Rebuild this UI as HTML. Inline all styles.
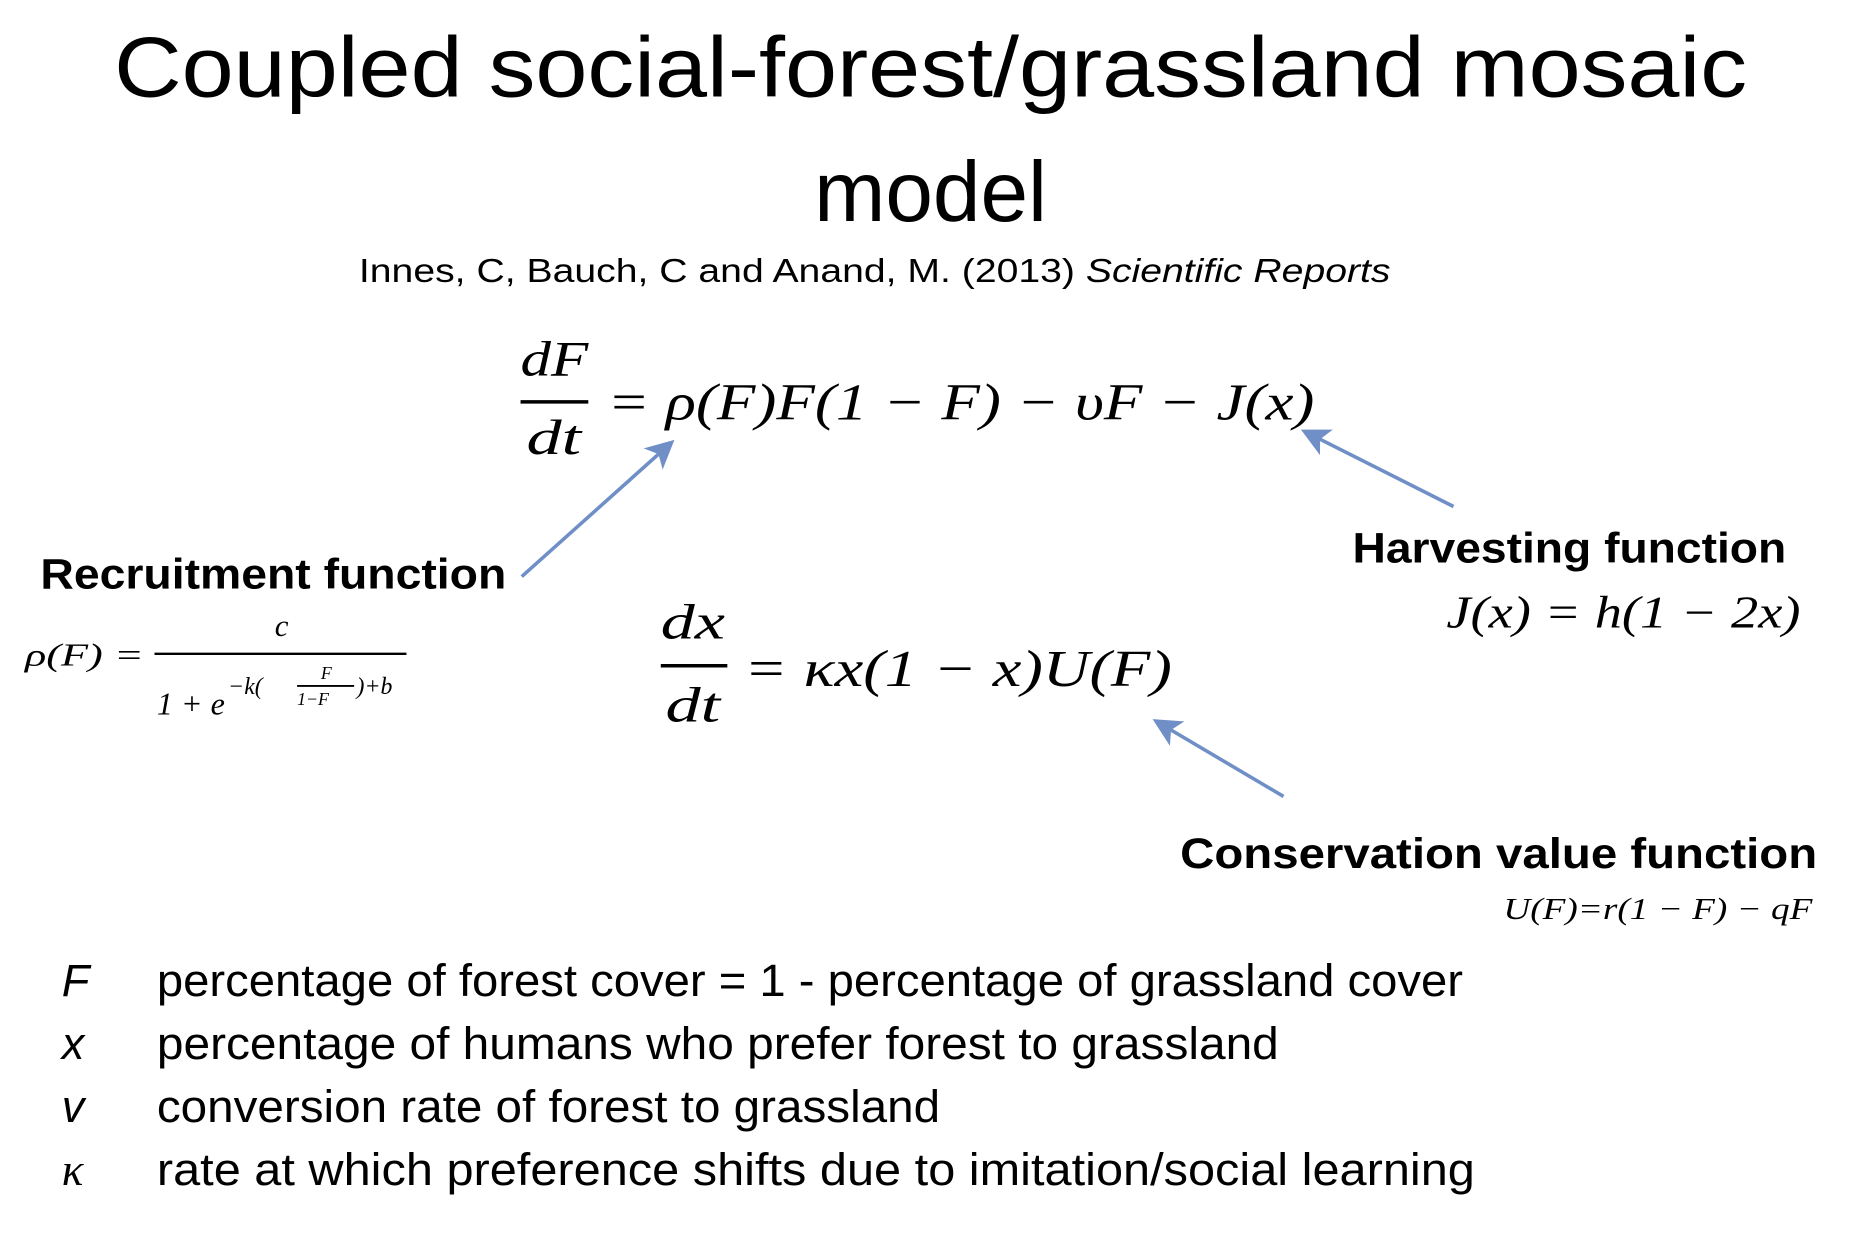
<!DOCTYPE html>
<html><head><meta charset="utf-8"><style>
html,body{margin:0;padding:0;background:#fff;width:1854px;height:1234px;overflow:hidden}
svg{display:block}
.t{font-family:"Liberation Sans",sans-serif;fill:#000}
.m{font-family:"Liberation Serif",serif;font-style:italic;fill:#000}
.b{font-family:"Liberation Sans",sans-serif;font-weight:bold;fill:#000}
</style></head><body>
<svg width="1854" height="1234" viewBox="0 0 1560 1038">
<text class="t" x="96" y="81" font-size="72" textLength="1374" lengthAdjust="spacingAndGlyphs">Coupled social-forest/grassland mosaic</text>
<text class="t" x="783" y="186" font-size="72" text-anchor="middle">model</text>
<text class="t" x="302" y="237" font-size="28" textLength="868" lengthAdjust="spacingAndGlyphs">Innes, C, Bauch, C and Anand, M. (2013) <tspan font-style="italic">Scientific Reports</tspan></text>

<g>
<text class="m" x="438" y="316" font-size="42" textLength="57" lengthAdjust="spacingAndGlyphs">dF</text>
<line x1="438" y1="338" x2="495" y2="338" stroke="#000" stroke-width="3"/>
<text class="m" x="443" y="382" font-size="42" textLength="46" lengthAdjust="spacingAndGlyphs">dt</text>
<text class="m" x="511" y="353" font-size="44" textLength="595" lengthAdjust="spacingAndGlyphs">= ρ(F)F(1 − F) − υF − J(x)</text>
</g>

<text class="b" x="34" y="495" font-size="36" textLength="392" lengthAdjust="spacingAndGlyphs">Recruitment function</text>
<g>
<text class="m" x="21" y="560" font-size="27" textLength="100" lengthAdjust="spacingAndGlyphs">ρ(F) =</text>
<text class="m" x="237" y="535" font-size="26" text-anchor="middle">c</text>
<line x1="130" y1="550" x2="342" y2="550" stroke="#000" stroke-width="2"/>
<text class="m" x="132" y="601" font-size="27">1 + e</text>
<text class="m" x="192" y="584" font-size="20">−k(</text>
<text class="m" x="270" y="571" font-size="15">F</text>
<line x1="250" y1="577" x2="298" y2="577" stroke="#000" stroke-width="1.5"/>
<text class="m" x="250" y="593" font-size="15">1−F</text>
<text class="m" x="300" y="584" font-size="20">)+b</text>
</g>

<g>
<text class="m" x="556" y="537" font-size="42" textLength="54" lengthAdjust="spacingAndGlyphs">dx</text>
<line x1="556" y1="560" x2="612" y2="560" stroke="#000" stroke-width="3"/>
<text class="m" x="560" y="607" font-size="42" textLength="46" lengthAdjust="spacingAndGlyphs">dt</text>
<text class="m" x="626" y="577" font-size="44" textLength="360" lengthAdjust="spacingAndGlyphs">= κx(1 − x)U(F)</text>
</g>

<text class="b" x="1138" y="473" font-size="36" textLength="365" lengthAdjust="spacingAndGlyphs">Harvesting function</text>
<text class="m" x="1217" y="528" font-size="38" textLength="298" lengthAdjust="spacingAndGlyphs">J(x) = h(1 − 2x)</text>

<text class="b" x="993" y="730" font-size="36" textLength="536" lengthAdjust="spacingAndGlyphs">Conservation value function</text>
<text class="m" x="1265" y="773" font-size="26" textLength="260" lengthAdjust="spacingAndGlyphs">U(F)=r(1 − F) − qF</text>

<defs><marker id="ah" markerWidth="8" markerHeight="8" refX="6" refY="4" orient="auto" markerUnits="strokeWidth"><path d="M0,0 L8,4 L0,8 L2,4 z" fill="#6f8fc6"/></marker></defs>
<line x1="439" y1="485" x2="563" y2="374" stroke="#6f8fc6" stroke-width="3" marker-end="url(#ah)"/>
<line x1="1223" y1="426" x2="1100" y2="364" stroke="#6f8fc6" stroke-width="3" marker-end="url(#ah)"/>
<line x1="1080" y1="670" x2="975" y2="608" stroke="#6f8fc6" stroke-width="3" marker-end="url(#ah)"/>

<g font-size="38">
<text class="t" font-style="italic" x="52" y="838">F</text>
<text class="t" x="132" y="838" textLength="1099" lengthAdjust="spacingAndGlyphs">percentage of forest cover = 1 - percentage of grassland cover</text>
<text class="t" font-style="italic" x="52" y="891">x</text>
<text class="t" x="132" y="891" textLength="944" lengthAdjust="spacingAndGlyphs">percentage of humans who prefer forest to grassland</text>
<text class="t" font-style="italic" x="52" y="944">v</text>
<text class="t" x="132" y="944" textLength="659" lengthAdjust="spacingAndGlyphs">conversion rate of forest to grassland</text>
<text class="m" x="52" y="997">κ</text>
<text class="t" x="132" y="997" textLength="1109" lengthAdjust="spacingAndGlyphs">rate at which preference shifts due to imitation/social learning</text>
</g>
</svg>
</body></html>
